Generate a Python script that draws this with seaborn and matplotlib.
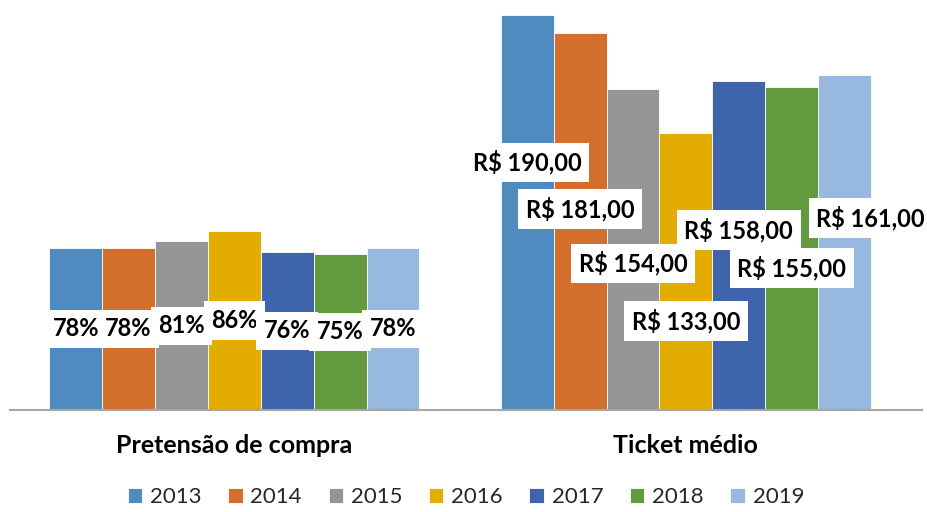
import numpy as np
import pandas as pd
import matplotlib
matplotlib.use("Agg")
import matplotlib.pyplot as plt
import seaborn as sns

# ---- data ----
years = ["2013", "2014", "2015", "2016", "2017", "2018", "2019"]
categories = ["Pretensão de compra", "Ticket médio"]
pretensao = [78, 78, 81, 86, 76, 75, 78]
ticket = [190, 181, 154, 133, 158, 155, 161]
ticket_labels = ["R$ 190,00", "R$ 181,00", "R$ 154,00", "R$ 133,00",
                 "R$ 158,00", "R$ 155,00", "R$ 161,00"]
pret_labels = ["78%", "78%", "81%", "86%", "76%", "75%", "78%"]
# label placement for ticket médio (manual positions in the original)
ticket_label_y = [118.9, 96.6, 70.4, 42.8, 86.5, 68.2, 92.3]
ticket_label_dx = [0, 0, 0, 0, 0, 0, 0.058]
colors = ["#4F8BBE", "#D46E2C", "#959595", "#E2AC00",
          "#3E64AC", "#629B3E", "#97B8DF"]

df = pd.DataFrame({
    "categoria": [categories[0]] * len(years) + [categories[1]] * len(years),
    "ano": years * 2,
    "valor": pretensao + ticket,
})

sns.set_theme(style="white")
plt.rcParams["font.family"] = ["Lato", "DejaVu Sans"]

fig = plt.figure(figsize=(9.27, 5.12), dpi=100)
ax = fig.add_axes([10 / 927, 1 - 410 / 512, 912 / 927, 410 / 512])

sns.barplot(data=df, x="categoria", y="valor", hue="ano", palette=colors,
            width=0.82, gap=0, saturation=1, edgecolor="white", linewidth=0.6,
            ax=ax, legend=True)

ax.set_ylim(0, 197)
ax.set_xlim(-0.497, 1.523)
ax.set_xlabel("")
ax.set_ylabel("")
ax.set_yticks([])
for s in ["top", "right", "left"]:
    ax.spines[s].set_visible(False)
ax.spines["bottom"].set_color("#A6A6A6")
ax.spines["bottom"].set_linewidth(1.5)
ax.tick_params(axis="x", length=0, pad=17)
for t in ax.get_xticklabels():
    t.set_fontweight("bold")
    t.set_fontsize(18)
    t.set_color("black")

box = dict(boxstyle="square,pad=0.32", fc="white", ec="none")
for i, cont in enumerate(ax.containers):
    bars = list(cont)
    b0, b1 = bars[0], bars[1]
    x0 = b0.get_x() + b0.get_width() / 2
    ax.text(x0, b0.get_height() / 2, pret_labels[i], ha="center", va="center",
            fontsize=17, fontweight="bold", color="black", bbox=box, zorder=5)
    x1 = b1.get_x() + b1.get_width() / 2 + ticket_label_dx[i]
    ax.text(x1, ticket_label_y[i], ticket_labels[i], ha="center", va="center",
            fontsize=17, fontweight="bold", color="black", bbox=box, zorder=5)

leg = ax.get_legend()
handles = leg.legend_handles
leg.remove()
fig.legend(handles, years, loc="center", bbox_to_anchor=(466 / 927, 1 - 497 / 512),
           ncol=7, frameon=False, fontsize=16, handlelength=0.65, handleheight=0.65,
           handletextpad=0.35, columnspacing=1.2)

fig.savefig("out.png", dpi=100)
